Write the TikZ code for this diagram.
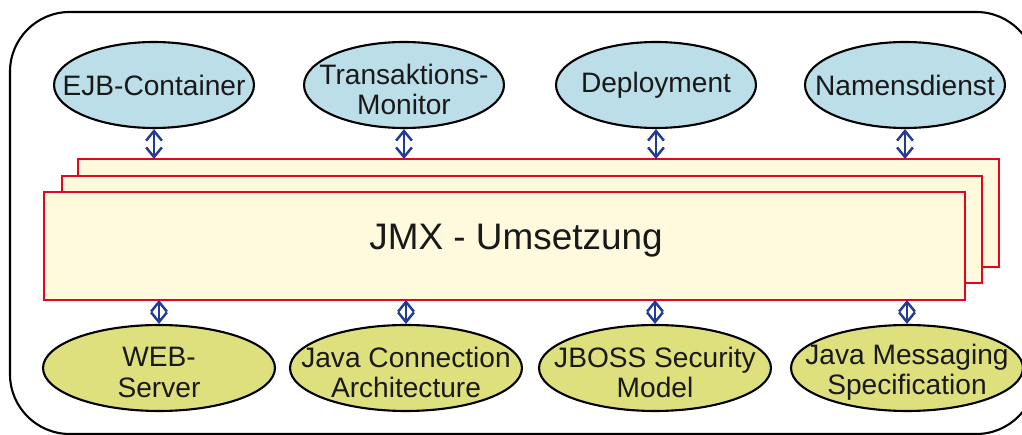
\documentclass[tikz,border=0pt]{standalone}
\usepackage{fontspec}
\setmainfont{Liberation Sans}
\usetikzlibrary{arrows.meta,shapes.geometric}
\definecolor{svcblue}{HTML}{BCDEE9}
\definecolor{svcyellow}{HTML}{DEE07E}
\definecolor{layerfill}{HTML}{FFFADD}
\definecolor{layerred}{HTML}{E3061C}
\definecolor{linkblue}{HTML}{213C92}
\tikzset{
  svctext/.style={align=center, font=\fontsize{16}{17.2}\selectfont, text=black!90, inner sep=0pt},
  svctwo/.style={svctext, yshift=-2.5pt},
  service/.style={ellipse, draw=black, line width=1.2pt, minimum width=#1, minimum height=1.72cm,
    inner sep=0pt},
  upper/.style={service=4.0cm, fill=svcblue},
  lower/.style={service=4.64cm, fill=svcyellow},
  layer/.style={draw=layerred, line width=1.4pt, fill=layerfill},
  barb/.tip={Straight Barb[length=5.5pt,width=9pt,line width=1.4pt]},
  link/.style={draw=linkblue, line width=1.4pt, barb-barb},
}
\begin{document}
\begin{tikzpicture}[x=0.02cm,y=-0.02cm]
\useasboundingbox (0,0) rectangle (1022,435);
\begin{scope}
\clip (0,0) rectangle (1022,435);
% outer frame
\draw[line width=1.2pt, rounded corners=34pt] (10,12) rectangle (1036,434);
\end{scope}

% top services
\node[upper, label={[svctext]center:EJB-Container}] (ejb)  at (154,85) {};
\node[upper, label={[svctwo]center:Transaktions-\\Monitor}] (tm) at (404,85) {};
\node[upper, label={[svctext]center:Deployment}] (dep)  at (656,85) {};
\node[upper, label={[svctext]center:Namensdienst}] (name) at (905,85) {};

% stacked JMX layers
\draw[layer] (78,159) rectangle (999,267);
\draw[layer] (62,176) rectangle (982,283);
\draw[layer] (44,192) rectangle (965,300);
\node[font=\fontsize{21}{24}\selectfont, text=black!90] (jmx) at (516,241) {JMX - Umsetzung};
\coordinate (backtop) at (0,159);
\coordinate (frontbot) at (0,300);

% bottom services
\node[lower, label={[svctwo]center:WEB-\\Server}] (web) at (159,368) {};
\node[lower, label={[svctwo]center:Java Connection\\Architecture}] (jca) at (406,368) {};
\node[lower, label={[svctwo]center:JBOSS Security\\Model}] (jbs) at (655,368) {};
\node[lower, label={[svctwo]center:Java Messaging\\Specification}] (jms) at (907,368) {};

% connections to the layer
\foreach \n in {ejb,tm,dep,name}
  \draw[link] (\n.south) -- (backtop -| \n.south);
\foreach \n in {web,jca,jbs,jms}
  \draw[link] (\n.north) -- (frontbot -| \n.north);
\end{tikzpicture}
\end{document}
